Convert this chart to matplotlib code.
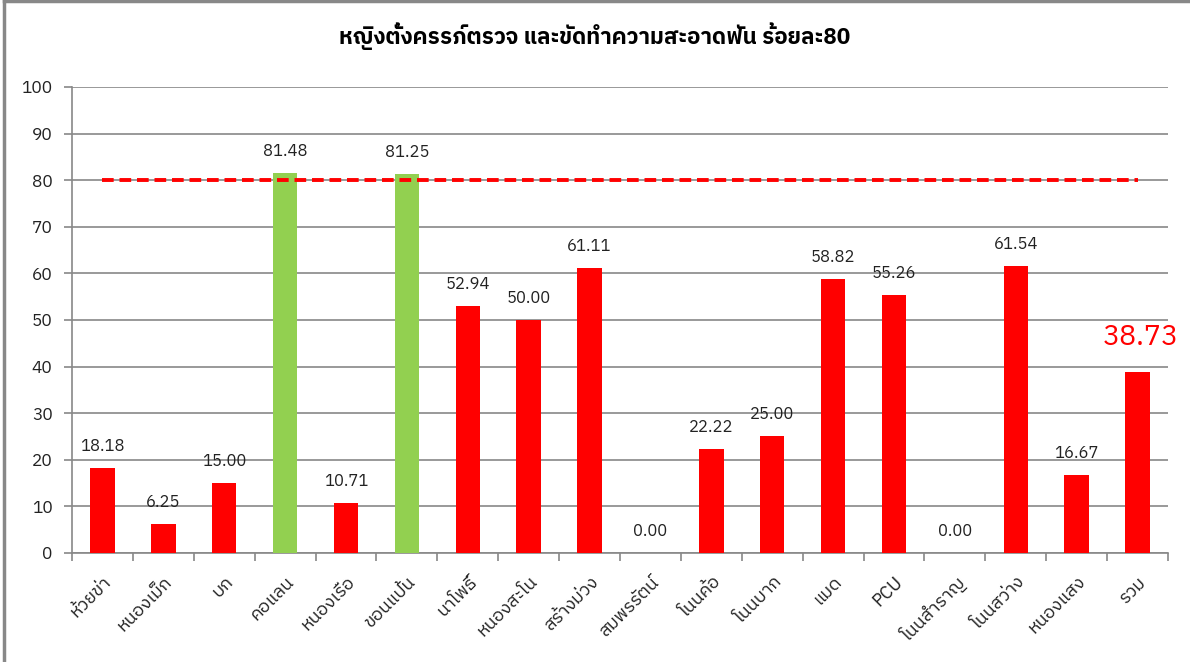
import numpy as np
import matplotlib
matplotlib.use('Agg')
from matplotlib import pyplot as plt
from matplotlib import font_manager
from matplotlib import transforms
from matplotlib.lines import Line2D

# data
names = ['ห้วยข่า', 'หนองเม็ก', 'บก', 'คอแลน', 'หนองเรือ', 'ขอนแป้น', 'นาโพธิ์',
         'หนองสะโน', 'สร้างม่วง', 'สมพรรัตน์', 'โนนค้อ', 'โนนบาก', 'แมด', 'PCU',
         'โนนสำราญ', 'โนนสว่าง', 'หนองแสง', 'รวม']
values = [18.18, 6.25, 15.00, 81.48, 10.71, 81.25, 52.94, 50.00, 61.11, 0.00,
          22.22, 25.00, 58.82, 55.26, 0.00, 61.54, 16.67, 38.73]
target = 80
title = 'หญิงตั้งครรภ์ตรวจ และขัดทำความสะอาดฟัน ร้อยละ80'

# look for a font with thai glyphs
thai = []
for f in font_manager.fontManager.ttflist:
    if 'thai' in f.name.lower() and f.name not in thai:
        thai.append(f.name)
fams = thai + ['DejaVu Sans', 'Noto Sans']
plt.rcParams['font.family'] = fams

fig = plt.figure(figsize=(11.9, 6.62), dpi=100)
ax = fig.add_axes([0.0605, 0.1647, 0.921, 0.704])

x = np.arange(len(values))
colors = ['#92D050' if v >= target else '#FF0000' for v in values]
ax.bar(x, values, width=0.4, color=colors, zorder=3)
ax.plot([x[0], x[-1]], [target, target], color='#FF0000', lw=2.8,
        dashes=(3, 1.5), zorder=4)

for i, v in enumerate(values):
    if i == len(values) - 1:
        ax.text(i + 0.05, v + 4.6, '%.2f' % v, ha='center', va='bottom', fontsize=20.5,
                color='#FF0000', zorder=5)
    else:
        ax.text(i, v + 3, '%.2f' % v, ha='center', va='bottom', fontsize=12,
                color='#222222', zorder=5)

ax.set_xlim(-0.5, len(values) - 0.5)
ax.set_ylim(0, 100)
ax.set_yticks(range(0, 101, 10))
ax.set_xticks(x)
ax.set_xticklabels(names, rotation=45, ha='right', rotation_mode='anchor',
                   fontsize=13, color='#222222')
shift = transforms.ScaledTranslation(-8 / 100, 0, fig.dpi_scale_trans)
for lab in ax.get_xticklabels():
    lab.set_transform(lab.get_transform() + shift)
ax.set_xticks(np.arange(-0.5, len(values), 1), minor=True)
ax.tick_params(axis='x', which='major', length=0, pad=14)
ax.tick_params(axis='x', which='minor', length=6, color='#888888', width=1.2)
ax.tick_params(axis='y', length=6, color='#888888', width=1.2, labelsize=12.5,
               pad=8, labelcolor='#222222')
ax.grid(axis='y', color='#888888', lw=1.2, zorder=0)
for s in ['top', 'right']:
    ax.spines[s].set_visible(False)
for s in ['left', 'bottom']:
    ax.spines[s].set_color('#888888')
    ax.spines[s].set_linewidth(1.2)

fig.text(0.5, 0.945, title, ha='center', va='center', fontsize=16,
         fontweight='bold')

# frame of the picture
fig.add_artist(Line2D([0.003, 0.003], [0, 0.998], color='#888888', lw=2.5))
fig.add_artist(Line2D([0.003, 1], [0.998, 0.998], color='#888888', lw=2.5))

fig.savefig('out.png', dpi=100)
